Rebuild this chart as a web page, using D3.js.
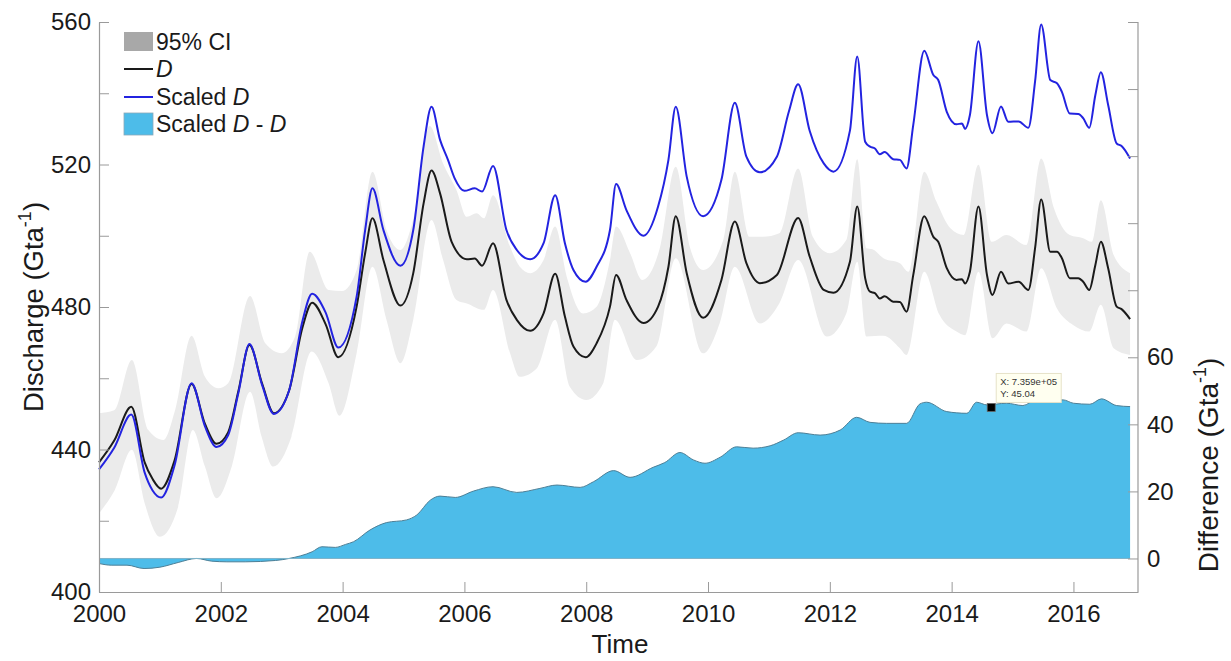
<!DOCTYPE html>
<html>
<head>
<meta charset="utf-8">
<script src="https://cdn.jsdelivr.net/npm/d3@7"></script>
<style>
  html, body { margin: 0; padding: 0; background: #fff; }
  svg { display: block; font-family: "Liberation Sans", Arial, Helvetica, sans-serif; }
</style>
</head>
<body>
<svg id="chart" width="1231" height="661"></svg>
<script>
// Discharge D (Gt/a), decimal year / value pairs
const dSeries = [
  [2000.0,436.4],[2000.25,442.5],[2000.53,452.0],[2000.75,436.4],[2000.88,431.7],[2001.02,429.0],
  [2001.24,436.9],[2001.52,458.4],[2001.74,447.2],[2001.93,441.6],[2002.12,444.8],[2002.29,456.5],
  [2002.47,469.3],[2002.68,458.4],[2002.87,450.2],[2003.12,456.5],[2003.34,474.2],[2003.5,481.2],
  [2003.72,475.2],[2003.93,465.9],[2004.23,480.1],[2004.37,495.1],[2004.49,504.9],[2004.67,493.2],
  [2004.95,480.4],[2005.16,489.5],[2005.33,509.1],[2005.46,518.3],[2005.6,511.9],[2005.79,498.3],
  [2006.04,493.4],[2006.17,493.6],[2006.29,491.6],[2006.47,497.9],[2006.69,482.0],[2006.86,476.4],
  [2007.08,473.3],[2007.3,478.2],[2007.49,489.3],[2007.65,477.3],[2007.79,468.9],[2007.99,465.9],
  [2008.17,469.8],[2008.39,480.1],[2008.49,489.0],[2008.66,482.0],[2008.94,475.5],[2009.18,480.1],
  [2009.35,491.3],[2009.47,505.5],[2009.65,489.5],[2009.92,477.0],[2010.22,487.6],[2010.44,504.0],
  [2010.63,492.3],[2010.85,486.7],[2011.13,489.0],[2011.48,505.0],[2011.67,494.1],[2011.9,484.8],
  [2012.06,484.0],[2012.33,492.7],[2012.45,508.2],[2012.58,488.1],[2012.66,484.3],[2012.74,483.9],
  [2012.82,482.4],[2012.9,483.0],[2013.04,481.5],[2013.15,481.4],[2013.26,478.7],[2013.37,489.0],
  [2013.55,505.5],[2013.7,499.7],[2013.78,498.3],[2013.92,490.9],[2014.08,487.6],[2014.17,487.8],
  [2014.22,486.6],[2014.3,489.9],[2014.44,508.2],[2014.58,489.0],[2014.67,483.4],[2014.81,489.9],
  [2014.93,486.6],[2015.1,487.1],[2015.26,484.8],[2015.37,496.5],[2015.47,510.2],[2015.62,495.5],
  [2015.73,495.5],[2015.81,493.7],[2015.94,488.1],[2016.08,488.1],[2016.16,487.1],[2016.26,484.8],
  [2016.36,491.8],[2016.45,498.3],[2016.57,490.9],[2016.71,480.1],[2016.79,479.4],[2016.93,476.6]
];

// Scaled D (Gt/a)
const scaledSeries = [
  [2000.0,434.4],[2000.25,440.5],[2000.53,449.8],[2000.75,433.5],[2000.88,428.5],[2001.02,426.5],
  [2001.24,435.5],[2001.52,458.6],[2001.74,446.5],[2001.93,440.7],[2002.12,444.0],[2002.29,456.0],
  [2002.47,469.6],[2002.68,458.0],[2002.87,450.0],[2003.12,456.5],[2003.34,476.0],[2003.5,483.7],
  [2003.72,478.5],[2003.93,468.6],[2004.23,482.9],[2004.37,501.6],[2004.49,513.3],[2004.67,501.6],
  [2004.95,491.6],[2005.16,501.6],[2005.33,525.1],[2005.46,536.2],[2005.6,526.9],[2005.73,521.3],
  [2005.84,516.1],[2006.0,512.6],[2006.17,513.3],[2006.29,512.4],[2006.47,519.6],[2006.69,501.6],
  [2006.86,496.0],[2007.08,493.4],[2007.3,497.9],[2007.49,511.4],[2007.65,497.9],[2007.79,490.4],
  [2007.99,487.1],[2008.17,491.3],[2008.39,501.6],[2008.49,514.5],[2008.66,507.2],[2008.94,500.0],
  [2009.18,508.2],[2009.35,521.3],[2009.47,536.2],[2009.65,516.6],[2009.92,505.5],[2010.22,515.7],
  [2010.44,537.3],[2010.63,522.2],[2010.85,517.8],[2011.13,522.2],[2011.33,535.0],[2011.48,542.5],
  [2011.67,529.4],[2011.9,520.3],[2012.06,518.0],[2012.33,529.5],[2012.45,550.3],[2012.58,526.4],
  [2012.66,525.0],[2012.74,524.5],[2012.82,522.9],[2012.9,523.5],[2013.04,521.5],[2013.15,521.3],
  [2013.26,518.9],[2013.37,531.1],[2013.55,551.9],[2013.7,545.1],[2013.78,543.7],[2013.92,534.8],
  [2014.08,531.3],[2014.17,531.5],[2014.22,530.0],[2014.3,533.9],[2014.44,554.6],[2014.58,533.9],
  [2014.67,528.8],[2014.81,536.3],[2014.93,532.0],[2015.1,532.1],[2015.26,530.3],[2015.37,543.3],
  [2015.47,559.3],[2015.62,543.7],[2015.73,542.8],[2015.81,540.4],[2015.94,534.3],[2016.08,534.2],
  [2016.16,533.0],[2016.26,530.3],[2016.36,539.5],[2016.45,545.9],[2016.57,536.7],[2016.71,525.9],
  [2016.79,525.2],[2016.93,521.7]
];

// 95% confidence interval bounds of D
const ciUpper = [
  [2000.0,450.2],[2000.25,451.0],[2000.54,465.1],[2000.81,445.5],[2001.06,442.7],[2001.25,451.1],
  [2001.52,471.9],[2001.74,460.4],[2001.96,457.2],[2002.12,458.6],[2002.48,483.1],[2002.73,469.8],
  [2003.0,467.0],[2003.22,471.7],[2003.46,495.5],[2003.77,484.8],[2003.99,484.5],[2004.23,490.4],
  [2004.49,518.0],[2004.72,501.6],[2004.95,496.0],[2005.16,504.6],[2005.43,530.8],[2005.65,520.3],
  [2005.87,512.8],[2006.04,505.3],[2006.2,506.3],[2006.32,504.9],[2006.47,511.4],[2006.75,496.9],
  [2006.91,491.3],[2007.08,489.5],[2007.3,493.2],[2007.49,502.6],[2007.68,488.5],[2007.95,478.2],
  [2008.17,480.1],[2008.39,493.2],[2008.49,502.6],[2008.72,495.1],[2008.92,487.6],[2009.2,496.0],
  [2009.47,519.4],[2009.7,496.9],[2009.92,490.4],[2010.25,498.8],[2010.44,518.0],[2010.68,499.7],
  [2010.9,499.7],[2011.17,500.7],[2011.48,518.9],[2011.72,499.7],[2012.0,495.1],[2012.27,498.8],
  [2012.45,521.5],[2012.6,496.5],[2012.7,496.2],[2012.88,493.7],[2013.15,492.3],[2013.29,489.9],
  [2013.55,518.0],[2013.75,509.6],[2013.98,502.1],[2014.2,500.2],[2014.44,519.9],[2014.66,498.3],
  [2014.9,500.2],[2015.23,497.4],[2015.47,521.7],[2015.68,507.7],[2015.94,500.2],[2016.16,499.3],
  [2016.3,498.3],[2016.45,510.0],[2016.66,494.6],[2016.93,489.5]
];
const ciLower = [
  [2000.0,422.1],[2000.26,428.6],[2000.54,439.9],[2000.75,424.9],[2001.0,415.5],[2001.3,423.9],
  [2001.54,445.5],[2001.74,435.2],[2001.93,426.3],[2002.18,435.2],[2002.48,456.2],[2002.67,443.6],
  [2002.86,435.2],[2003.16,443.6],[2003.49,467.5],[2003.77,458.6],[2003.95,449.5],[2004.23,467.0],
  [2004.49,491.3],[2004.72,476.4],[2004.95,464.2],[2005.16,476.4],[2005.46,504.4],[2005.65,493.2],
  [2005.87,482.0],[2006.04,481.0],[2006.32,479.2],[2006.47,484.8],[2006.75,467.0],[2006.91,460.4],
  [2007.19,462.8],[2007.49,476.4],[2007.73,457.6],[2008.0,453.9],[2008.28,458.6],[2008.47,476.4],
  [2008.83,465.1],[2009.15,468.9],[2009.47,493.7],[2009.92,467.0],[2010.19,475.4],[2010.44,491.3],
  [2010.85,475.4],[2011.17,481.0],[2011.48,493.2],[2011.95,471.7],[2012.27,478.2],[2012.45,492.7],
  [2012.6,471.7],[2012.88,471.9],[2013.15,468.4],[2013.26,466.5],[2013.55,489.9],[2013.8,477.8],
  [2014.08,473.1],[2014.22,472.1],[2014.44,489.9],[2014.67,471.2],[2014.9,475.4],[2015.23,473.1],
  [2015.47,490.9],[2015.73,479.6],[2016.0,474.9],[2016.26,473.1],[2016.45,480.6],[2016.66,468.4],
  [2016.93,466.5]
];

// Scaled D - D (Gt/a), right-hand axis
const diffSeries = [
  [2000.0,-1.5],[2000.2,-2.0],[2000.46,-2.0],[2000.74,-3.0],[2001.0,-2.6],[2001.3,-1.2],
  [2001.6,0.0],[2001.85,-0.8],[2002.1,-1.0],[2002.4,-1.0],[2002.9,-0.6],[2003.12,0.0],
  [2003.5,2.0],[2003.66,3.5],[2003.88,3.3],[2004.05,4.2],[2004.18,5.0],[2004.45,8.5],
  [2004.72,10.7],[2005.05,11.5],[2005.22,13.0],[2005.44,17.4],[2005.6,18.6],[2005.85,18.2],
  [2006.15,20.1],[2006.47,21.4],[2006.86,19.7],[2007.24,20.9],[2007.52,21.9],[2007.9,21.2],
  [2008.12,22.9],[2008.45,26.2],[2008.72,24.2],[2009.1,27.2],[2009.29,28.6],[2009.54,31.6],
  [2009.76,29.4],[2009.95,28.4],[2010.2,30.2],[2010.47,33.3],[2010.74,32.9],[2011.02,33.6],
  [2011.24,35.3],[2011.48,37.5],[2011.84,36.8],[2012.17,38.3],[2012.44,42.1],[2012.66,40.6],
  [2012.93,40.3],[2013.26,40.3],[2013.48,46.1],[2013.59,46.6],[2013.92,43.8],[2014.25,43.3],
  [2014.41,46.6],[2014.58,45.8],[2014.9,46.3],[2015.17,45.6],[2015.39,47.3],[2015.83,47.3],
  [2016.0,46.3],[2016.27,46.0],[2016.46,47.6],[2016.71,45.6],[2016.93,45.3]
];

// Axis ticks and labels
const xTicks = [2000, 2002, 2004, 2006, 2008, 2010, 2012, 2014, 2016];
const leftTicks = [400, 420, 440, 460, 480, 500, 520, 540, 560];
const leftLabels = [400, 440, 480, 520, 560];
const rightTicks = [0, 20, 40, 60, 80, 100, 120, 140, 160];
const rightLabels = [0, 20, 40, 60];

// Data tip on the difference series
const tipTime = 2014.65;
const tipValue = 45.04;
const tipXLabel = "X: 7.359e+05";

const colors = {
  ci: "#ebebeb", ciKey: "#a8a8a8", d: "#1a1a1a", scaled: "#2323e0",
  diff: "#4dbce9", diffEdge: "#4d7f96", axis: "#9a9a9a", text: "#1a1a1a"
};

const svg = d3.select("#chart");
const plotLeft = 99, plotRight = 1138, plotTop = 22, plotBottom = 592;

const x = d3.scaleLinear().domain([2000, 2017.06]).range([plotLeft, plotRight]);
const yL = d3.scaleLinear().domain([400, 560]).range([plotBottom, plotTop]);
const yR = d3.scaleLinear().domain([-10, 160]).range([plotBottom, plotTop]);

const curve = d3.curveMonotoneX;

// Confidence band: upper bound forward, lower bound back
const bandLine = d3.line().x(d => x(d[0])).y(d => yL(d[1])).curve(curve);
const lowerRev = ciLower.slice().reverse();
const bandPath = bandLine(ciUpper) + "L" + bandLine(lowerRev).slice(1) + "Z";
svg.append("path").attr("d", bandPath).attr("fill", colors.ci).attr("stroke", "none");

// Difference area on the right axis
const diffArea = d3.area().x(d => x(d[0])).y0(yR(0)).y1(d => yR(d[1])).curve(curve);
const diffLine = d3.line().x(d => x(d[0])).y(d => yR(d[1])).curve(curve);
svg.append("path").datum(diffSeries).attr("d", diffArea).attr("fill", colors.diff);
svg.append("path").datum(diffSeries).attr("d", diffLine)
  .attr("fill", "none").attr("stroke", colors.diffEdge).attr("stroke-width", 1);
svg.append("line")
  .attr("x1", x(diffSeries[0][0])).attr("x2", x(diffSeries[diffSeries.length - 1][0]))
  .attr("y1", yR(0)).attr("y2", yR(0))
  .attr("stroke", "#7fb3c9").attr("stroke-width", 1);

// D and scaled D
const lineL = d3.line().x(d => x(d[0])).y(d => yL(d[1])).curve(curve);
svg.append("path").datum(dSeries).attr("d", lineL)
  .attr("fill", "none").attr("stroke", colors.d).attr("stroke-width", 2);
svg.append("path").datum(scaledSeries).attr("d", lineL)
  .attr("fill", "none").attr("stroke", colors.scaled).attr("stroke-width", 2);

// Axes
function styleAxis(g) {
  g.select(".domain").attr("stroke", colors.axis).attr("stroke-width", 1.2);
  g.selectAll(".tick line").attr("stroke", colors.axis).attr("stroke-width", 1);
  g.selectAll(".tick text").attr("fill", colors.text)
    .attr("font-size", 24).attr("font-family", "Liberation Sans, Arial, sans-serif");
}

svg.append("g").attr("transform", `translate(${plotLeft},0)`)
  .call(d3.axisLeft(yL).tickValues(leftTicks).tickSize(-10).tickSizeOuter(0).tickPadding(8)
    .tickFormat(d => leftLabels.includes(d) ? d : ""))
  .call(styleAxis);

svg.append("g").attr("transform", `translate(${plotRight},0)`)
  .call(d3.axisRight(yR).tickValues(rightTicks).tickSize(-10).tickSizeOuter(0).tickPadding(9)
    .tickFormat(d => rightLabels.includes(d) ? d : ""))
  .call(g => g.select(".domain").attr("d", `M0,${plotTop}V${plotBottom}`))
  .call(styleAxis);

svg.append("g").attr("transform", `translate(0,${plotBottom})`)
  .call(d3.axisBottom(x).tickValues(xTicks).tickSize(-10).tickSizeOuter(0).tickPadding(13)
    .tickFormat(d3.format("d")))
  .call(styleAxis);

// Axis titles
function unitTitle(sel, name) {
  sel.append("tspan").text(name + " (Gta");
  sel.append("tspan").attr("font-size", 18).attr("dy", -12).text("-1");
  sel.append("tspan").attr("dy", 12).text(")");
}
svg.append("text").attr("transform", "translate(43,307) rotate(-90)")
  .attr("text-anchor", "middle").attr("font-size", 27.5).attr("fill", colors.text)
  .call(unitTitle, "Discharge");
svg.append("text").attr("transform", "translate(1218,465) rotate(-90)")
  .attr("text-anchor", "middle").attr("font-size", 28).attr("fill", colors.text)
  .call(unitTitle, "Difference");
svg.append("text").attr("x", 620).attr("y", 653).attr("text-anchor", "middle")
  .attr("font-size", 26).attr("fill", colors.text).text("Time");

// Legend
const legend = svg.append("g").attr("font-size", 23).attr("fill", colors.text);
legend.append("rect").attr("x", 124).attr("y", 32).attr("width", 29).attr("height", 19)
  .attr("fill", colors.ciKey);
legend.append("text").attr("x", 156).attr("y", 50).text("95% CI");
legend.append("line").attr("x1", 124).attr("x2", 153).attr("y1", 69).attr("y2", 69)
  .attr("stroke", colors.d).attr("stroke-width", 2);
legend.append("text").attr("x", 156).attr("y", 77).attr("font-style", "italic").text("D");
legend.append("line").attr("x1", 124).attr("x2", 153).attr("y1", 97).attr("y2", 97)
  .attr("stroke", colors.scaled).attr("stroke-width", 2);
const t3 = legend.append("text").attr("x", 156).attr("y", 105);
t3.append("tspan").text("Scaled ");
t3.append("tspan").attr("font-style", "italic").text("D");
legend.append("rect").attr("x", 124).attr("y", 113).attr("width", 29).attr("height", 22)
  .attr("fill", colors.diff).attr("stroke", "#8aa9b8").attr("stroke-width", 0.8);
const t4 = legend.append("text").attr("x", 156).attr("y", 132);
t4.append("tspan").text("Scaled ");
t4.append("tspan").attr("font-style", "italic").text("D");
t4.append("tspan").text(" - ");
t4.append("tspan").attr("font-style", "italic").text("D");

// Data tip
const tipX = x(tipTime), tipY = yR(tipValue);
svg.append("rect").attr("x", tipX - 4).attr("y", tipY - 4).attr("width", 8).attr("height", 8)
  .attr("fill", "#000").attr("stroke", "#666").attr("stroke-width", 0.8);
const tip = svg.append("g").attr("transform", `translate(${tipX + 5},${tipY - 34})`);
tip.append("rect").attr("width", 65).attr("height", 29)
  .attr("fill", "#fffff0").attr("stroke", "#e6e2c8").attr("stroke-width", 1);
tip.append("text").attr("x", 4).attr("y", 12).attr("font-size", 9.5).attr("fill", "#333")
  .text(tipXLabel);
tip.append("text").attr("x", 4).attr("y", 24).attr("font-size", 9.5).attr("fill", "#333")
  .text("Y: " + tipValue);
</script>
</body>
</html>
